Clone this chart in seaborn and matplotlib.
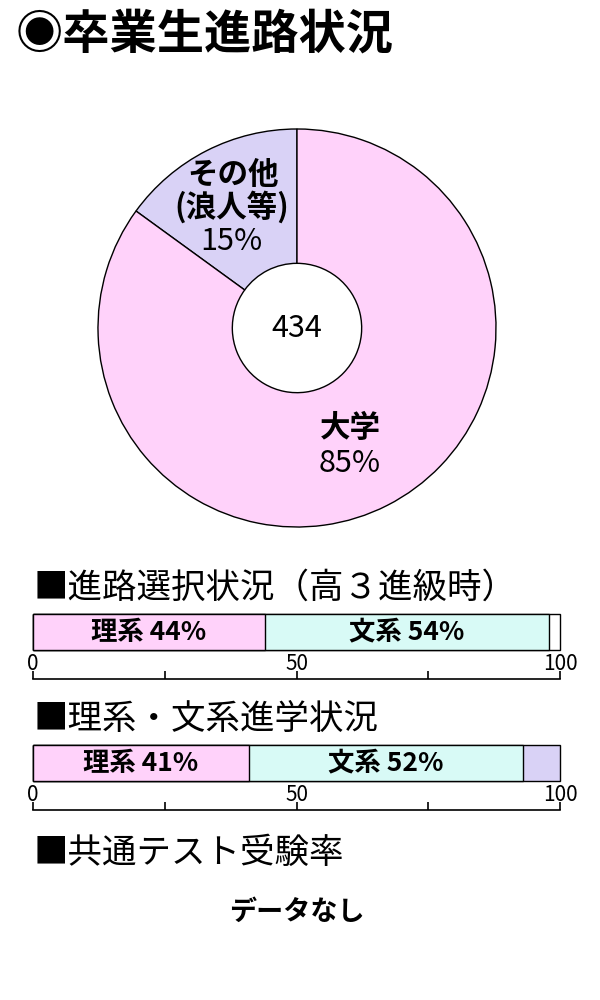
"""
卒業生進路状況: ドーナツグラフ + 積み上げ帯グラフ2本。
"""

import numpy as np
import matplotlib
matplotlib.use("Agg")
import matplotlib.pyplot as plt
import seaborn as sns

# --- データ ---------------------------------------------------------------
TITLE = "◉卒業生進路状況"
TOTAL = 434

pie_labels = ["その他", "大学"]
pie_sub = ["(浪人等)", ""]
pie_values = [15, 85]
pie_colors = ["#D9D2F6", "#FFD2FA"]

bar1_title = "■進路選択状況（高３進級時）"
bar1_labels = ["理系", "文系", ""]
bar1_values = [44, 54, 2]
bar1_colors = ["#FFD2FA", "#D8FAF6", "#FFFFFF"]

bar2_title = "■理系・文系進学状況"
bar2_labels = ["理系", "文系", ""]
bar2_values = [41, 52, 7]
bar2_colors = ["#FFD2FA", "#D8FAF6", "#D9D2F6"]

bar3_title = "■共通テスト受験率"
no_data_text = "データなし"

scale_ticks = [0, 25, 50, 75, 100]
scale_ticklabels = ["0", "", "50", "", "100"]

# --- Stil -----------------------------------------------------------------
sns.set_theme(style="white")
plt.rcParams["font.family"] = ["Noto Sans CJK JP", "DejaVu Sans"]
plt.rcParams["text.color"] = "black"

W, H = 600, 1000
fig = plt.figure(figsize=(W / 100, H / 100), dpi=100)


def fx(px):
    return px / W


def fy(py):
    return 1 - py / H


# Titel
fig.text(fx(16), fy(35), TITLE, fontsize=34, fontweight="bold",
         va="center", ha="left", color="black")

# --- Donut ----------------------------------------------------------------
ax_pie = fig.add_axes([fx(97), fy(528), 400 / W, 400 / H])
ax_pie.pie(pie_values, colors=pie_colors, startangle=90, counterclock=True,
           wedgeprops=dict(width=0.675, edgecolor="black", linewidth=1.0))
ax_pie.set_xlim(-1.005, 1.005)
ax_pie.set_ylim(-1.005, 1.005)

ax_pie.text(-0.32, 0.77, pie_labels[0], ha="center", va="center",
            fontsize=22, fontweight="bold")
ax_pie.text(-0.33, 0.605, pie_sub[0], ha="center", va="center",
            fontsize=22, fontweight="bold")
ax_pie.text(-0.33, 0.435, f"{pie_values[0]}%", ha="center", va="center",
            fontsize=22)
ax_pie.text(0.27, -0.505, pie_labels[1], ha="center", va="center",
            fontsize=22, fontweight="bold")
ax_pie.text(0.265, -0.68, f"{pie_values[1]}%", ha="center", va="center",
            fontsize=22)
ax_pie.text(0, -0.005, str(TOTAL), ha="center", va="center", fontsize=22)


# --- Balken ---------------------------------------------------------------
def stacked_bar(top_px, title, title_py, labels, values, colors):
    """Gestapelter Balken 0-100 % mit Skala darunter."""
    axis_px = top_px + 65
    ax = fig.add_axes([fx(33), fy(axis_px), 527 / W, 69 / H])
    cum = np.cumsum(values)
    # größte Summe zuerst, damit die kleineren darüber liegen
    for i in reversed(range(len(values))):
        sns.barplot(x=[cum[i]], y=["r"], orient="h", color=colors[i],
                    saturation=1, edgecolor="black", linewidth=1.0,
                    width=0.8, errorbar=None, ax=ax)
    for p in ax.patches:
        p.set_clip_on(False)
    starts = cum - np.array(values)
    for lab, s, v in zip(labels, starts, values):
        if lab:
            ax.text(s + v / 2, 0, f"{lab} {v}%", ha="center", va="center",
                    fontsize=19, fontweight="bold")
    ax.set_xlim(0, 100)
    ax.set_ylim(1.044, -0.489)
    ax.set_xticks(scale_ticks)
    ax.set_xticklabels(scale_ticklabels)
    ax.set_yticks([])
    ax.set_xlabel("")
    ax.set_ylabel("")
    sns.despine(ax=ax, left=True)
    ax.spines["bottom"].set_color("black")
    ax.spines["bottom"].set_linewidth(1.2)
    ax.tick_params(axis="x", bottom=True, direction="in", length=6,
                   width=1.2, colors="black", pad=-19, labelsize=15)
    ax.patch.set_alpha(0)
    fig.text(fx(34), fy(title_py), title, fontsize=24.8, va="center",
             ha="left")


stacked_bar(614, bar1_title, 588, bar1_labels, bar1_values, bar1_colors)
stacked_bar(745, bar2_title, 720, bar2_labels, bar2_values, bar2_colors)

fig.text(fx(34), fy(853), bar3_title, fontsize=24.8, va="center", ha="left")
fig.text(fx(297), fy(912), no_data_text, fontsize=19.5, fontweight="bold",
         va="center", ha="center")

fig.savefig("out.png", dpi=100)
